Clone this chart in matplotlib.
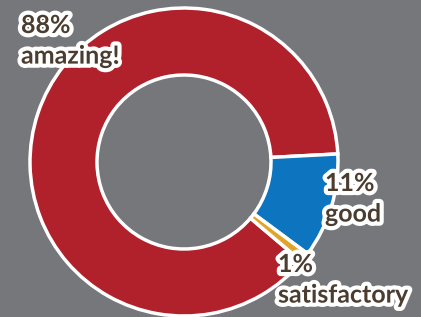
import matplotlib.pyplot as plt
import matplotlib.patheffects as pe

labels = ['amazing!', 'good', 'satisfactory']
values = [88, 11, 1]
colors = ['#b0212b', '#0d74c0', '#e0a42a']

bg = '#76777b'
fig = plt.figure(figsize=(4.21, 3.17), dpi=100, facecolor=bg)
ax = fig.add_axes([0, 0, 1, 1])
ax.set_facecolor(bg)

ax.pie(values, colors=colors, center=(184, 155), radius=154,
       startangle=-40.2, counterclock=False, frame=True,
       wedgeprops=dict(width=67, edgecolor='white', linewidth=2.5))
ax.set_xlim(0, 421)
ax.set_ylim(0, 317)
ax.set_aspect('equal')
ax.axis('off')

# label positions (top-left corner of each text block, in pixels)
pos = [(21, 303), (325, 145), (278, 64)]
stroke = [pe.withStroke(linewidth=6, foreground='white')]
for lab, v, (x, y) in zip(labels, values, pos):
    ax.text(x, y, '%d%%\n%s' % (v, lab), ha='left', va='top',
            fontsize=18, fontfamily='Lato', fontweight='bold',
            color='#4a3c2f', linespacing=1.4, path_effects=stroke)

fig.savefig('out.png', dpi=100, facecolor=bg)
